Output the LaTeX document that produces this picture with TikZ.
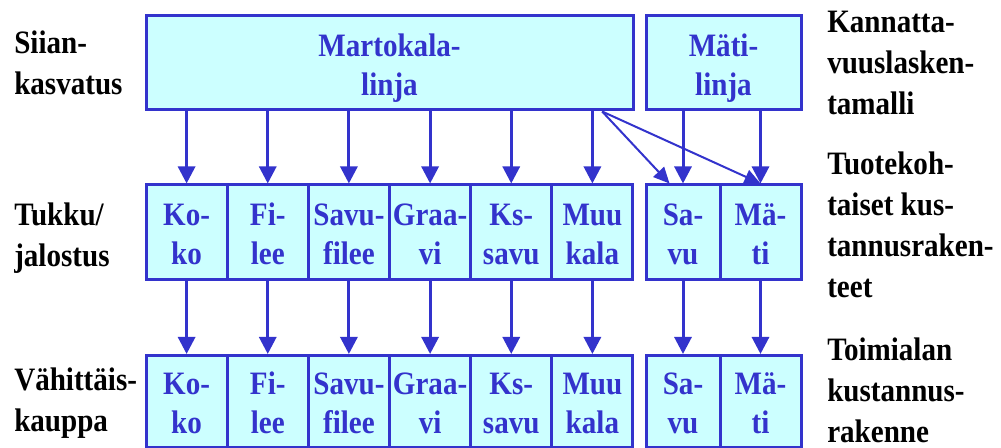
\documentclass[tikz,border=0pt]{standalone}
\usepackage{fontspec}
\setmainfont{Liberation Serif}[FakeStretch=0.89]
\usetikzlibrary{arrows.meta,calc}
\definecolor{bl}{HTML}{3333CC}
\definecolor{cy}{HTML}{CCFFFF}
\tikzset{
  box/.style 2 args={draw=bl, fill=cy, line width=2.25pt, text=bl,
    font=\bfseries\fontsize{24.5}{29.5}\selectfont, align=center, inner sep=0pt,
    text height=48.75pt, text depth=0pt,
    minimum width=#1*0.75pt, minimum height=#2*0.75pt},
  lab/.style={font=\bfseries\fontsize{24.5}{30.75}\selectfont, align=left, inner sep=0pt, anchor=base west},
  arr/.style={draw=bl, line width=2.25pt, -{Triangle[width=12.75pt,length=12.75pt]}},
  darr/.style={draw=bl, line width=1.5pt, -{Triangle[width=11pt,length=12pt]}}
}
\begin{document}
\begin{tikzpicture}[x=0.75pt,y=-0.75pt]
\useasboundingbox (0,0) rectangle (1001,448);
% top row
\node[box={487}{94}] (m) at (389.5,63) {Martokala-\\linja};
\node[box={155}{94}] (mt) at (723.5,63) {Mäti-\\linja};
% row 2
\node[box={81.17}{95}] (a1) at (186.6,232.5) {Ko-\\ko};
\node[box={81.17}{95}] (b1) at (267.75,232.5) {Fi-\\lee};
\node[box={81.17}{95}] (c1) at (348.9,232.5) {Savu-\\filee};
\node[box={81.17}{95}] (d1) at (430.1,232.5) {Graa-\\vi};
\node[box={81.17}{95}] (e1) at (511.25,232.5) {Ks-\\savu};
\node[box={81.17}{95}] (f1) at (592.4,232.5) {Muu\\kala};
\node[box={74}{95}] (s1) at (683,232.5) {Sa-\\vu};
\node[box={81}{95}] (t1) at (760.5,232.5) {Mä-\\ti};
% row 3
\node[box={81.17}{92}] (a2) at (186.6,401.5) {Ko-\\ko};
\node[box={81.17}{92}] (b2) at (267.75,401.5) {Fi-\\lee};
\node[box={81.17}{92}] (c2) at (348.9,401.5) {Savu-\\filee};
\node[box={81.17}{92}] (d2) at (430.1,401.5) {Graa-\\vi};
\node[box={81.17}{92}] (e2) at (511.25,401.5) {Ks-\\savu};
\node[box={81.17}{92}] (f2) at (592.4,401.5) {Muu\\kala};
\node[box={74}{92}] (s2) at (683,401.5) {Sa-\\vu};
\node[box={81}{92}] (t2) at (760.5,401.5) {Mä-\\ti};
% labels
\node[lab] (l1) at (14,95) {Siian-\\kasvatus};
\node[lab] (l2) at (14,267) {Tukku/\\jalostus};
\node[lab] (l3) at (14,432) {Vähittäis-\\kauppa};
\node[lab] (r1) at (827,115) {Kannatta-\\vuuslasken-\\tamalli};
\node[lab] (r2) at (827,298) {Tuotekoh-\\taiset kus-\\tannusraken-\\teet};
\node[lab] (r3) at (827,443) {Toimialan\\kustannus-\\rakenne};
% arrows
\foreach \u in {a,b,c,d,e,f} {
  \draw[arr] (m.south -| \u1.north) -- (\u1.north);
  \draw[arr] (\u1.south) -- (\u2.north);
}
\draw[arr] (mt.south -| s1.north) -- (s1.north);
\draw[arr] (mt.south -| t1.north) -- (t1.north);
\draw[arr] (s1.south) -- (s2.north);
\draw[arr] (t1.south) -- (t2.north);
\coordinate (dp) at ($(m.south west)!0.934!(m.south east)$);
\coordinate (sp) at ($(s1.north west)!0.65!(s1.north)$);
\draw[darr] (dp) -- (sp);
\draw[darr] (dp) -- (t1.north);
\end{tikzpicture}
\end{document}
